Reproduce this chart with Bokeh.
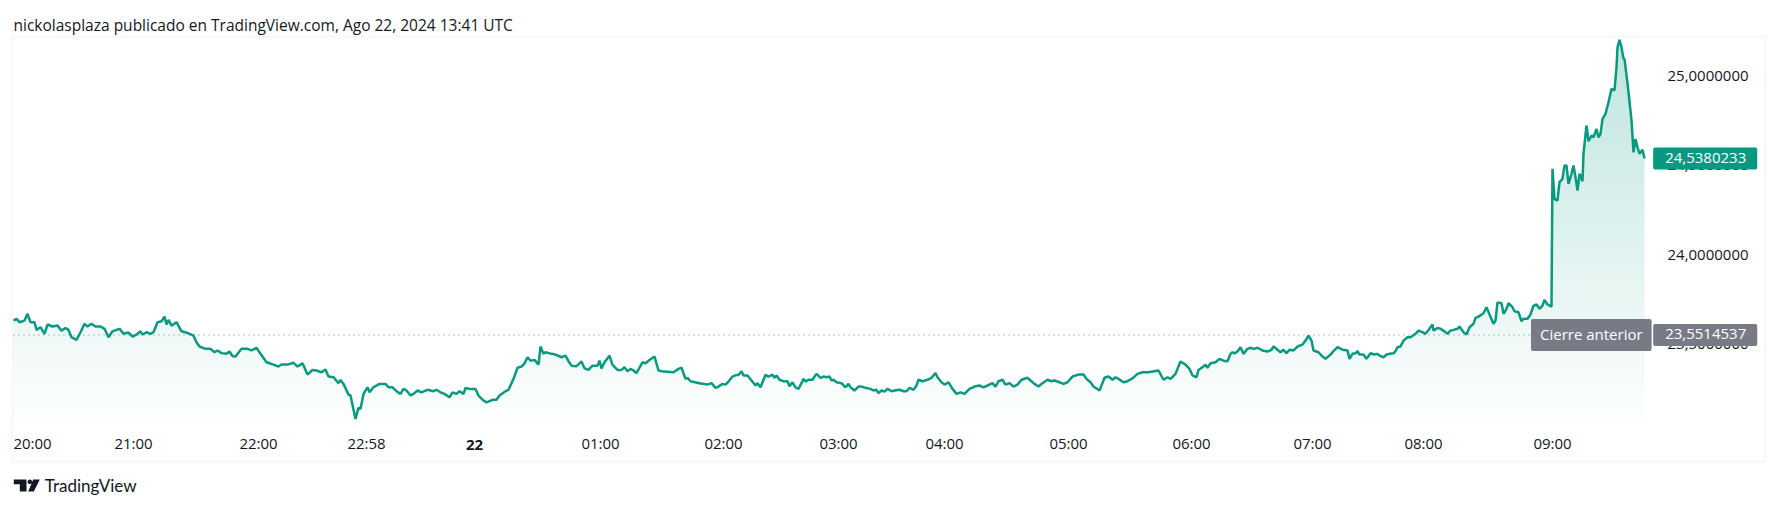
import numpy as np
from bokeh.plotting import figure
from bokeh.models import (Range1d, LinearAxis, FixedTicker, Label,
                          BoxAnnotation, PolyAnnotation)
from bokeh.embed import file_html
from bokeh.resources import INLINE

# ---------------- data ----------------
title_text = "nickolasplaza publicado en TradingView.com, Ago 22, 2024 13:41 UTC"

bar = [
    0, 3, 6, 11, 14, 17, 21, 23, 27, 31,
    34, 39, 44, 48, 52, 55, 58, 63, 67, 71,
    74, 78, 82, 87, 91, 95, 99, 103, 106, 110,
    115, 119, 123, 127, 129, 133, 137, 140, 144, 148,
    151, 153, 155, 158, 163, 168, 175, 180, 183, 186,
    192, 197, 201, 204, 208, 213, 216, 219, 222, 228,
    234, 238, 243, 247, 253, 260, 265, 268, 274, 280,
    284, 289, 294, 299, 303, 308, 312, 315, 320, 325,
    327, 330, 335, 337, 342, 345, 347, 350, 354, 356,
    360, 366, 372, 375, 379, 383, 387, 390, 393, 397,
    400, 404, 408, 414, 420, 423, 427, 431, 436, 439,
    443, 446, 450, 452, 456, 462, 465, 470, 473, 479,
    483, 486, 492, 495, 500, 504, 508, 511, 514, 517,
    521, 525, 527, 530, 532, 538, 542,
    548, 552, 555, 558, 563, 568, 571, 575, 579, 584,
    586, 588, 591, 596, 599, 604, 608, 611, 614, 617,
    620, 623, 629, 632, 636, 641, 645, 648, 660, 665,
    668, 672, 674, 677, 686, 694, 698, 702, 705, 709,
    712, 715, 719, 723, 725, 728, 730, 734, 738, 742,
    744, 747, 749, 752, 755, 759, 761, 763, 766, 770,
    774, 776, 779, 782, 785, 788, 790, 792, 795, 799,
    801, 803, 807, 810, 813, 816, 818, 820, 823, 828,
    832, 835, 837, 841, 845, 848, 852, 857, 860, 863,
    865, 868, 871, 874, 878, 881, 886, 890, 893, 896,
    900, 903, 905, 909, 914, 918, 922, 924, 928, 931,
    935, 939, 943, 947, 951, 956, 961, 966, 970, 974,
    979, 982, 985, 989, 992, 996, 1000, 1004, 1008, 1014,
    1017, 1021, 1025, 1029, 1034, 1038, 1041, 1046, 1050, 1054,
    1059, 1065, 1070, 1073, 1077, 1080, 1086,
    1091, 1095, 1099, 1102, 1105, 1110, 1114, 1119, 1124, 1129,
    1135, 1145, 1150, 1154, 1157, 1162, 1164, 1167, 1172, 1176,
    1179, 1183, 1185, 1189, 1192, 1194, 1197, 1202, 1206, 1210,
    1214, 1217, 1219, 1221, 1224, 1227, 1230, 1234, 1237, 1240,
    1244, 1249, 1254, 1258, 1260, 1264, 1267, 1270, 1273, 1276,
    1280, 1284, 1289, 1292, 1295, 1298, 1300, 1305, 1309, 1312,
    1317, 1320, 1324, 1329, 1334, 1336, 1339, 1342, 1344, 1346,
    1350, 1353, 1357, 1361, 1364, 1366, 1370, 1373, 1376, 1380,
    1382, 1384, 1387, 1390, 1394, 1397, 1402, 1405, 1409, 1412,
    1415, 1419, 1420, 1424, 1427, 1430, 1434, 1437, 1440, 1444,
    1446, 1450, 1453, 1456, 1460, 1462, 1465, 1470, 1473, 1476,
    1480, 1482, 1484, 1488, 1490, 1493, 1495, 1499, 1501, 1505,
    1508, 1510, 1514, 1517, 1520, 1523, 1526, 1529, 1531, 1534,
    1538,
    1539, 1541, 1544, 1546, 1549, 1551, 1553, 1555, 1558, 1560,
    1562, 1564, 1566, 1569, 1570, 1573, 1575, 1578, 1580, 1583,
    1585, 1587, 1589, 1592, 1595, 1598, 1601, 1603, 1604, 1606,
    1608, 1610, 1611, 1613, 1615, 1618, 1620, 1622, 1624, 1626,
    1629, 1631,
]

price = [
    23.632, 23.642, 23.623, 23.632, 23.670, 23.623, 23.623, 23.580, 23.595, 23.558,
    23.610, 23.599, 23.604, 23.576, 23.591, 23.580, 23.539, 23.524, 23.567, 23.614,
    23.599, 23.614, 23.599, 23.599, 23.586, 23.539, 23.572, 23.580, 23.586, 23.558,
    23.565, 23.543, 23.554, 23.572, 23.554, 23.567, 23.558, 23.567, 23.623, 23.628,
    23.654, 23.610, 23.636, 23.604, 23.623, 23.572, 23.561, 23.548, 23.511, 23.487,
    23.474, 23.474, 23.455, 23.465, 23.450, 23.446, 23.459, 23.433, 23.431, 23.474,
    23.474, 23.465, 23.480, 23.446, 23.399, 23.386, 23.375, 23.386, 23.386, 23.396,
    23.375, 23.393, 23.330, 23.356, 23.353, 23.343, 23.358, 23.319, 23.315, 23.282,
    23.300, 23.278, 23.218, 23.213, 23.082, 23.144, 23.138, 23.222, 23.259, 23.231,
    23.259, 23.278, 23.278, 23.259, 23.259, 23.237, 23.222, 23.250, 23.241, 23.213,
    23.222, 23.241, 23.231, 23.245, 23.237, 23.245, 23.231, 23.222, 23.203, 23.231,
    23.222, 23.237, 23.222, 23.255, 23.250, 23.250, 23.213, 23.185, 23.175, 23.189,
    23.189, 23.213, 23.237, 23.245, 23.306, 23.368, 23.375, 23.393, 23.427, 23.408,
    23.412, 23.386, 23.487, 23.446, 23.455, 23.446, 23.442,
    23.427, 23.436, 23.405, 23.380, 23.377, 23.403, 23.365, 23.356, 23.380, 23.380,
    23.408, 23.365, 23.399, 23.436, 23.384, 23.356, 23.356, 23.371, 23.349, 23.362,
    23.353, 23.338, 23.399, 23.393, 23.412, 23.431, 23.353, 23.349, 23.343, 23.362,
    23.368, 23.306, 23.312, 23.293, 23.282, 23.274, 23.282, 23.256, 23.263, 23.278,
    23.274, 23.291, 23.319, 23.328, 23.328, 23.349, 23.325, 23.325, 23.297, 23.269,
    23.282, 23.259, 23.287, 23.328, 23.319, 23.330, 23.312, 23.325, 23.301, 23.293,
    23.293, 23.265, 23.287, 23.259, 23.250, 23.282, 23.306, 23.291, 23.301, 23.301,
    23.319, 23.334, 23.312, 23.319, 23.315, 23.319, 23.297, 23.301, 23.287, 23.282,
    23.259, 23.278, 23.259, 23.241, 23.263, 23.263, 23.256, 23.250, 23.241, 23.245,
    23.226, 23.241, 23.235, 23.250, 23.237, 23.241, 23.245, 23.237, 23.237, 23.256,
    23.245, 23.269, 23.301, 23.293, 23.301, 23.312, 23.338, 23.315, 23.287, 23.274,
    23.287, 23.250, 23.222, 23.231, 23.222, 23.250, 23.263, 23.269, 23.259, 23.269,
    23.282, 23.263, 23.293, 23.301, 23.274, 23.282, 23.263, 23.274, 23.301, 23.312,
    23.297, 23.278, 23.263, 23.282, 23.301, 23.293, 23.297, 23.287, 23.278, 23.287,
    23.319, 23.330, 23.330, 23.306, 23.287, 23.263, 23.241,
    23.312, 23.319, 23.301, 23.315, 23.306, 23.287, 23.293, 23.309, 23.334, 23.343,
    23.343, 23.353, 23.301, 23.315, 23.306, 23.334, 23.362, 23.403, 23.386, 23.362,
    23.325, 23.315, 23.356, 23.371, 23.386, 23.368, 23.393, 23.399, 23.418, 23.408,
    23.405, 23.446, 23.455, 23.449, 23.459, 23.483, 23.446, 23.474, 23.480, 23.474,
    23.480, 23.465, 23.459, 23.469, 23.487, 23.469, 23.455, 23.469, 23.450, 23.469,
    23.465, 23.487, 23.498, 23.520, 23.548, 23.520, 23.465, 23.455, 23.431, 23.418,
    23.442, 23.461, 23.483, 23.469, 23.465, 23.418, 23.446, 23.449, 23.461, 23.442,
    23.442, 23.418, 23.449, 23.442, 23.446, 23.436, 23.427, 23.442, 23.446, 23.449,
    23.461, 23.483, 23.487, 23.520, 23.539, 23.539, 23.558, 23.576, 23.567, 23.558,
    23.580, 23.610, 23.576, 23.591, 23.586, 23.576, 23.558, 23.576, 23.580, 23.586,
    23.599, 23.567, 23.554, 23.595, 23.614, 23.647, 23.654, 23.673, 23.707, 23.666,
    23.614, 23.632, 23.734, 23.729, 23.670, 23.698, 23.729, 23.707, 23.684, 23.679,
    23.628, 23.642, 23.642, 23.666, 23.716, 23.722, 23.698, 23.716, 23.748, 23.722,
    23.710,
    24.481, 24.313, 24.303, 24.406, 24.425, 24.499, 24.499, 24.397, 24.453, 24.499,
    24.434, 24.359, 24.453, 24.411, 24.565, 24.723, 24.635, 24.667, 24.657, 24.704,
    24.657, 24.676, 24.760, 24.788, 24.853, 24.928, 24.919, 25.049, 25.161, 25.202,
    25.161, 25.096, 25.096, 25.003, 24.910, 24.751, 24.573, 24.648, 24.601, 24.565,
    24.587, 24.5380233,
]

time_ticks = [19, 120, 245, 353, 461, 587, 710, 825, 931, 1055, 1178, 1299, 1410, 1539]
time_labels = ["20:00", "21:00", "22:00", "22:58", "22", "01:00", "02:00",
               "03:00", "04:00", "05:00", "06:00", "07:00", "08:00", "09:00"]
day_label = "22"

price_ticks = [23.5, 24.0, 24.5, 25.0]
price_labels = ["23,5000000", "24,0000000", "24,5000000", "25,0000000"]

prev_close = 23.5514537
prev_close_label = "Cierre anterior"
prev_close_text = "23,5514537"
last_price = 24.5380233
last_price_text = "24,5380233"
brand_text = "TradingView"

# ---------------- layout (page pixels) ----------------
W, H = 1770, 501
Y_LO, Y_HI = 23.0173, 25.2153           # price at bottom / top of chart pane
CH_LEFT, CH_RIGHT, CH_TOP, CH_BOTTOM = 13, 1651, 37, 430


def xs(sx):
    return sx - CH_LEFT


def ys(sy):
    return Y_HI - (sy - CH_TOP) / (CH_BOTTOM - CH_TOP) * (Y_HI - Y_LO)


TEAL = "#089981"
TEAL_RGB = (8, 153, 129)
GREY = "#787b86"
INK = "#131722"
FONT = "Open Sans"

p = figure(width=W, height=H, output_backend="svg", toolbar_location=None,
           x_range=Range1d(xs(0), xs(W)), y_range=Range1d(ys(H), ys(0)),
           x_axis_location=None, y_axis_location=None,
           min_border_left=0, min_border_right=0, min_border_top=0,
           min_border_bottom=0)
p.background_fill_color = "white"
p.border_fill_color = "white"
p.outline_line_color = None
p.grid.visible = False

# gradient area under the line: opaque bands, bottom to top
price_arr = np.array(price)
n_bands = 60
edges = np.linspace(Y_LO, Y_HI, n_bands + 1)
eps = (Y_HI - Y_LO) / (CH_BOTTOM - CH_TOP)
TOP_ALPHA = 0.26
for k in range(n_bands):
    a, b = edges[k], edges[k + 1]
    al = TOP_ALPHA * ((a + b) / 2 - Y_LO) / (Y_HI - Y_LO)
    col = "#%02x%02x%02x" % tuple(int(round(255 - (255 - c) * al)) for c in TEAL_RGB)
    p.varea(x=bar, y1=np.full(len(bar), a), y2=np.clip(price_arr, a, b + eps),
            fill_color=col)

# previous close dotted line across the chart pane
p.line([xs(CH_LEFT), xs(CH_RIGHT)], [prev_close, prev_close], line_color=GREY,
       line_width=1, line_dash="1 4")

p.line(bar, price, line_color=TEAL, line_width=2.5)

# axes placed at the pane edges
xaxis = LinearAxis(ticker=FixedTicker(ticks=time_ticks), fixed_location=ys(CH_BOTTOM),
                   major_label_overrides={t: (l if l != day_label else "")
                                          for t, l in zip(time_ticks, time_labels)})
yaxis = LinearAxis(ticker=FixedTicker(ticks=price_ticks), fixed_location=xs(CH_RIGHT),
                   major_label_overrides={t: l for t, l in zip(price_ticks, price_labels)})
for ax in (xaxis, yaxis):
    ax.axis_line_color = None
    ax.major_tick_line_color = None
    ax.minor_tick_line_color = None
    ax.major_tick_out = 0
    ax.major_tick_in = 0
    ax.minor_tick_out = 0
    ax.minor_tick_in = 0
    ax.major_label_text_font = FONT
    ax.major_label_text_font_size = "15px"
    ax.major_label_text_color = INK
xaxis.major_label_standoff = 2
yaxis.major_label_standoff = 16
p.add_layout(xaxis, "below")
p.add_layout(yaxis, "right")

# bold day label
day_idx = time_labels.index(day_label)
p.add_layout(Label(x=time_ticks[day_idx], y=ys(444), text=day_label,
                   text_font=FONT, text_font_size="15px", text_font_style="bold",
                   text_color=INK, text_align="center", text_baseline="middle"))

# outer frame
p.add_layout(BoxAnnotation(left=xs(12), right=xs(1765), top=ys(36), bottom=ys(461),
                           fill_color=None, fill_alpha=0, line_color="#e0e3eb",
                           line_width=2))

# header text
p.add_layout(Label(x=xs(13), y=ys(24), text=title_text, text_font=FONT,
                   text_font_size="15.5px", text_color=INK, text_align="left",
                   text_baseline="middle"))

# badges
pad_val = dict(left=12, right=11, top=5, bottom=7)
p.add_layout(Label(x=xs(1704.7), y=last_price, text=last_price_text, text_font=FONT,
                   text_font_size="15px", text_color="white", text_align="center",
                   text_baseline="middle", background_fill_color=TEAL,
                   border_radius=2, padding=pad_val))
p.add_layout(Label(x=xs(1590.8), y=prev_close, text=prev_close_label, text_font=FONT,
                   text_font_size="15px", text_color="white", text_align="center",
                   text_baseline="middle", background_fill_color=GREY,
                   border_radius=2, padding=dict(left=9, right=9, top=5, bottom=7)))
p.add_layout(Label(x=xs(1704.7), y=prev_close, text=prev_close_text, text_font=FONT,
                   text_font_size="15px", text_color="white", text_align="center",
                   text_baseline="middle", background_fill_color=GREY,
                   border_radius=2, padding=pad_val))

# brand logo + text
t_shape_x = [13.3, 26, 26, 19.3, 19.3, 13.3]
t_shape_y = [479, 479, 491, 491, 483.7, 483.7]
p.add_layout(PolyAnnotation(xs=[xs(v) for v in t_shape_x], ys=[ys(v) for v in t_shape_y],
                            fill_color=INK, fill_alpha=1, line_color=None))
ang = np.linspace(0, 2 * np.pi, 16, endpoint=False)
p.add_layout(PolyAnnotation(xs=[xs(29.4 + 2.3 * np.cos(t)) for t in ang],
                            ys=[ys(481.3 + 2.3 * np.sin(t)) for t in ang],
                            fill_color=INK, fill_alpha=1, line_color=None))
slash_x = [32.7, 39.3, 33.3, 27.7]
slash_y = [479, 479, 491, 491]
p.add_layout(PolyAnnotation(xs=[xs(v) for v in slash_x], ys=[ys(v) for v in slash_y],
                            fill_color=INK, fill_alpha=1, line_color=None))
p.add_layout(Label(x=xs(44.3), y=ys(485), text=brand_text, text_font="Lato",
                   text_font_size="17px", text_color=INK, text_align="left",
                   text_baseline="middle"))

open("out.html", "w").write(file_html(p, INLINE))
